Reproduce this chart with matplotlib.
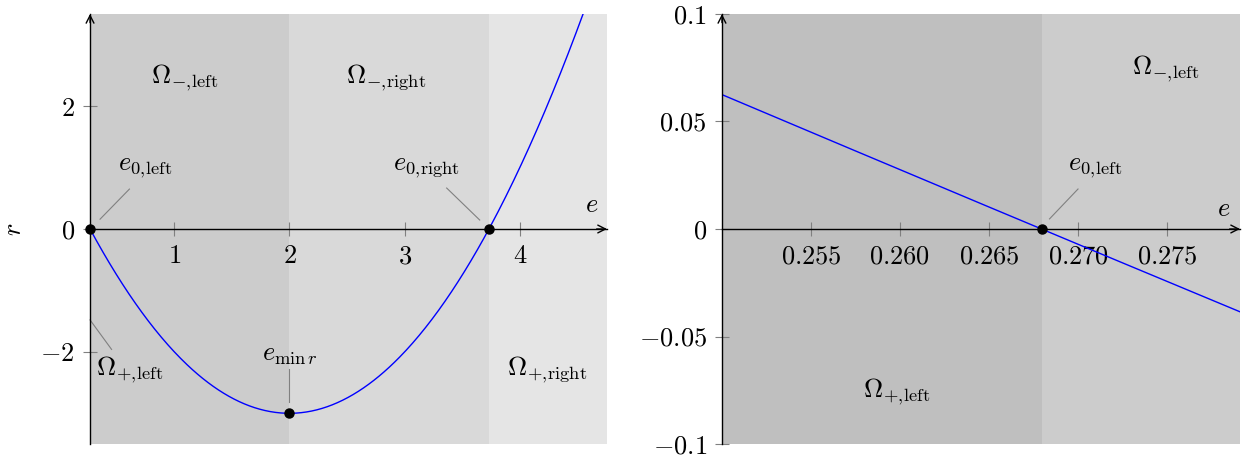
import numpy as np
import matplotlib
matplotlib.use("Agg")
import matplotlib.pyplot as plt

plt.rcParams["mathtext.fontset"] = "cm"
plt.rcParams["font.family"] = "serif"
plt.rcParams["font.serif"] = ["cmr10", "DejaVu Serif"]
plt.rcParams["axes.formatter.use_mathtext"] = True

# parabola r(e) = (e - e_min)^2 + r_min, marked roots and vertex
e_min, r_min = 2.0, -3.0
e0_left, e0_right = 0.268, 3.732

# left panel ticks
left_xticks = [1, 2, 3, 4]
left_xlabels = ["$1$", "$2$", "$3$", "$4$"]
left_yticks = [-2, 0, 2]
left_ylabels = ["$-2$", "$0$", "$2$"]

# right (zoomed) panel ticks
right_xticks = [0.255, 0.260, 0.265, 0.270, 0.275]
right_xlabels = ["$0.255$", "$0.260$", "$0.265$", "$0.270$", "$0.275$"]
right_yticks = [-0.1, -0.05, 0, 0.05, 0.1]
right_ylabels = ["$-0.1$", "$-0.05$", "$0$", "$0.05$", "$0.1$"]

FS = 19
GREY = "#808080"

OM_ML = r"$\Omega_{-,\!\mathrm{left}}$"
OM_MR = r"$\Omega_{-,\!\mathrm{right}}$"
OM_PL = r"$\Omega_{+,\!\mathrm{left}}$"
OM_PR = r"$\Omega_{+,\!\mathrm{right}}$"
E0_L = r"$e_{0,\!\mathrm{left}}$"
E0_R = r"$e_{0,\!\mathrm{right}}$"


def r_of(e):
    return (e - e_min) ** 2 + r_min


def style_axes(ax, xlim, ylim, xt, xl, yt, yl):
    ax.set_xlim(*xlim)
    ax.set_ylim(*ylim)
    ax.spines["top"].set_visible(False)
    ax.spines["right"].set_visible(False)
    ax.spines["bottom"].set_position(("data", 0))
    ax.spines["left"].set_position(("data", xlim[0]))
    for s in ("bottom", "left"):
        ax.spines[s].set_linewidth(1.0)
        ax.spines[s].set_zorder(3)
    ax.set_xticks(xt)
    ax.set_xticklabels(xl)
    ax.set_yticks(yt)
    ax.set_yticklabels(yl)
    ax.tick_params(direction="inout", length=10, width=0.8, color=GREY,
                   labelsize=FS)
    ax.tick_params(axis="x", pad=6)
    ax.tick_params(axis="y", pad=6)
    # arrow heads on the axis lines
    arrow = dict(arrowstyle="->,head_length=0.55,head_width=0.28",
                 lw=1.0, color="black", shrinkA=0, shrinkB=0)
    ax.annotate("", xy=(xlim[1], 0), xytext=(xlim[1] - 0.02 * (xlim[1] - xlim[0]), 0),
                arrowprops=arrow, annotation_clip=False, zorder=4)
    ax.annotate("", xy=(xlim[0], ylim[1]), xytext=(xlim[0], ylim[1] - 0.02 * (ylim[1] - ylim[0])),
                arrowprops=arrow, annotation_clip=False, zorder=4)


def pin(ax, p0, p1):
    ax.plot([p0[0], p1[0]], [p0[1], p1[1]], color=GREY, lw=0.8, zorder=2,
            clip_on=False)


fig = plt.figure(figsize=(12.42, 4.57), dpi=100)
ax1 = fig.add_axes([0.0725, 0.0284, 0.4162, 0.941])
ax2 = fig.add_axes([0.5813, 0.0284, 0.4171, 0.941])

# ---- left panel ----
xl1 = (e0_left, 4.757)
yl1 = (-3.5, 3.5)
ax1.axvspan(xl1[0], e_min, color="#cccccc", lw=0, zorder=0)
ax1.axvspan(e_min, e0_right, color="#d9d9d9", lw=0, zorder=0)
ax1.axvspan(e0_right, xl1[1], color="#e5e5e5", lw=0, zorder=0)

e = np.linspace(xl1[0], xl1[1], 400)
ax1.plot(e, r_of(e), color="#0000ff", lw=1.0, zorder=3)
ax1.plot([e0_left, e0_right, e_min], [0, 0, r_min], "o", color="black",
         ms=6.5, zorder=5, clip_on=False)
style_axes(ax1, xl1, yl1, left_xticks, left_xlabels, left_yticks, left_ylabels)

ax1.text(1.09, 2.46, OM_ML, fontsize=FS, ha="center", va="center")
ax1.text(2.84, 2.46, OM_MR, fontsize=FS, ha="center", va="center")
ax1.text(0.61, -2.3, OM_PL, fontsize=FS, ha="center", va="center")
ax1.text(4.24, -2.3, OM_PR, fontsize=FS, ha="center", va="center")
ax1.text(0.75, 0.99, E0_L, fontsize=FS, ha="center", va="center")
ax1.text(3.19, 0.99, E0_R, fontsize=FS, ha="center", va="center")
ax1.text(2.0, -2.05, r"$e_{\min\, r}$", fontsize=FS, ha="center", va="center")
pin(ax1, (0.355, 0.16), (0.61, 0.65))
pin(ax1, (3.365, 0.667), (3.652, 0.146))
pin(ax1, (2.0, -2.28), (2.0, -2.82))
pin(ax1, (e0_left, -1.48), (0.455, -1.96))
ax1.text(4.62, 0.2, "$e$", fontsize=FS, ha="center", va="bottom")
ax1.text(-0.147, 0.5, "$r$", fontsize=FS, rotation=90, ha="center", va="center",
         transform=ax1.transAxes)

# ---- right panel (zoom around e0_left) ----
xl2 = (0.25, 0.2791)
yl2 = (-0.1, 0.1)
ax2.axvspan(xl2[0], e0_left, color="#bfbfbf", lw=0, zorder=0)
ax2.axvspan(e0_left, xl2[1], color="#cccccc", lw=0, zorder=0)

e = np.linspace(xl2[0], xl2[1], 200)
ax2.plot(e, r_of(e), color="#0000ff", lw=1.0, zorder=3)
ax2.plot([e0_left], [0], "o", color="black", ms=6.5, zorder=5)
style_axes(ax2, xl2, yl2, right_xticks, right_xlabels, right_yticks, right_ylabels)

ax2.text(0.27494, 0.0745, OM_ML, fontsize=FS, ha="center", va="center")
ax2.text(0.2598, -0.0755, OM_PL, fontsize=FS, ha="center", va="center")
ax2.text(0.27095, 0.0285, E0_L, fontsize=FS, ha="center", va="center")
pin(ax2, (0.26840, 0.0047), (0.27000, 0.0186))
ax2.text(0.2782, 0.0035, "$e$", fontsize=FS, ha="center", va="bottom")

fig.savefig("out.png", dpi=100)
